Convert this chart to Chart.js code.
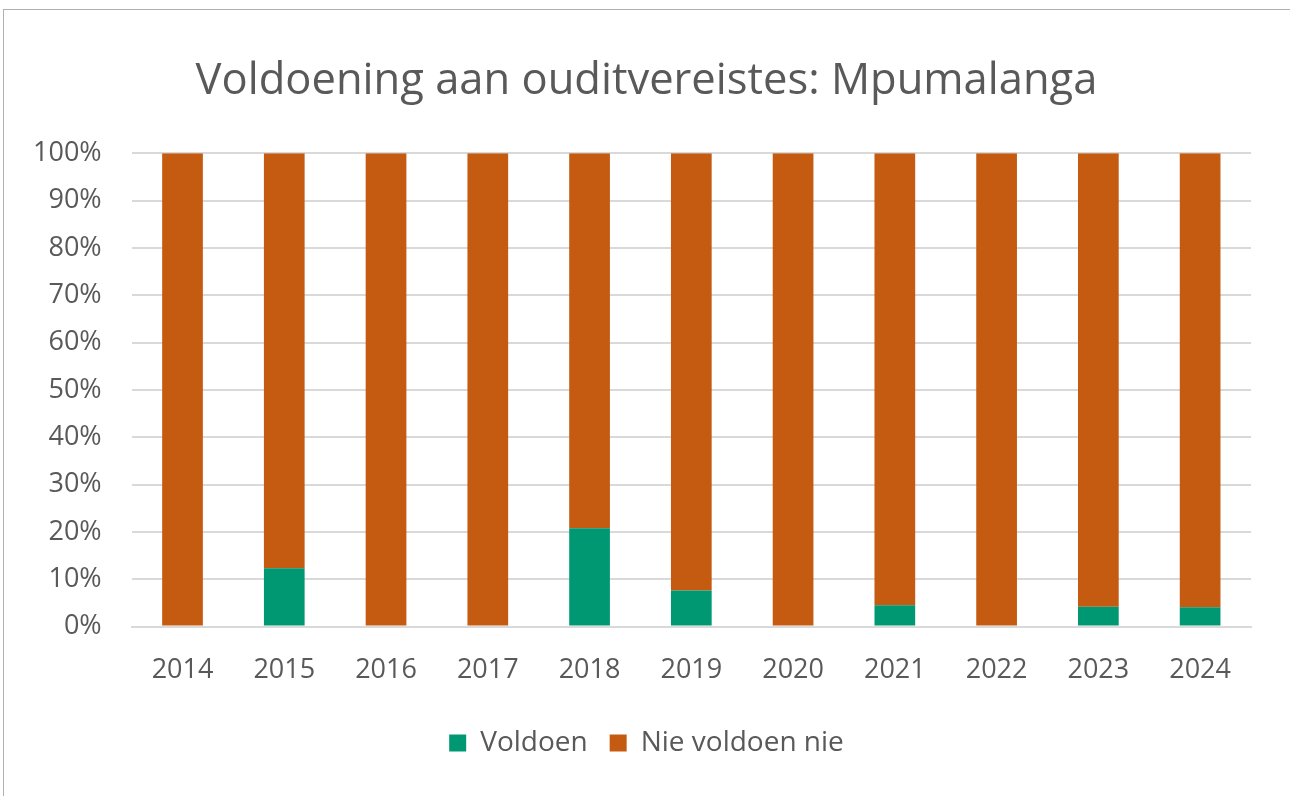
<!DOCTYPE html>
<html><head><meta charset="utf-8">
<script src="https://cdn.jsdelivr.net/npm/chart.js@4"></script>
<style>
html,body{margin:0;padding:0;background:#fff;}
#wrap{position:absolute;left:3px;top:9px;width:1300px;height:800px;border:1.5px solid #b0b0b0;box-sizing:border-box;}
#c{position:absolute;left:0;top:0;}
</style></head><body>
<div id="wrap"></div>
<canvas id="c" width="1290" height="796"></canvas>
<script>
const categories = ["2014","2015","2016","2017","2018","2019","2020","2021","2022","2023","2024"];
const voldoen = [0, 12.3, 0, 0, 20.8, 7.6, 0, 4.5, 0, 4.2, 4.1];
const nieVoldoen = voldoen.map(v => 100 - v);
const yTicks = [0,10,20,30,40,50,60,70,80,90,100];

const font = "'Open Sans', sans-serif";
new Chart(document.getElementById('c'), {
  type: 'bar',
  data: {
    labels: categories,
    datasets: [
      {label: 'Voldoen', data: voldoen, backgroundColor: '#009873', barPercentage: 0.8, categoryPercentage: 0.5},
      {label: 'Nie voldoen nie', data: nieVoldoen, backgroundColor: '#c55a11', barPercentage: 0.8, categoryPercentage: 0.5}
    ]
  },
  options: {
    responsive: false,
    animation: false,
    layout: {padding: {left: 3, right: 0, top: 40, bottom: 29}},
    plugins: {
      title: {display: true, text: 'Voldoening aan ouditvereistes: Mpumalanga', color: '#595959',
        font: {family: font, size: 43.5, weight: 'normal'}, padding: {top: 16, bottom: 45}},
      legend: {position: 'bottom', labels: {color: '#595959', font: {family: font, size: 28},
        boxWidth: 17, boxHeight: 17, padding: 22}},
      tooltip: {enabled: false}
    },
    scales: {
      x: {stacked: true, grid: {display: false}, border: {display: true, color: '#d9d9d9', width: 2},
        ticks: {color: '#595959', font: {family: font, size: 27}, padding: 20}},
      y: {stacked: true, min: 0, max: 100, grid: {color: '#d9d9d9', lineWidth: 2, drawTicks: false},
        border: {display: false},
        afterBuildTicks: ax => { ax.ticks = yTicks.map(v => ({value: v})); },
        ticks: {color: '#595959', font: {family: font, size: 27}, padding: 30, callback: v => v + '%'}},
      yRight: {position: 'right', min: 0, max: 100, grid: {display: false}, border: {display: false},
        ticks: {display: false}, afterFit: s => { s.width = 39; }}
    }
  }
});
</script>
</body></html>
